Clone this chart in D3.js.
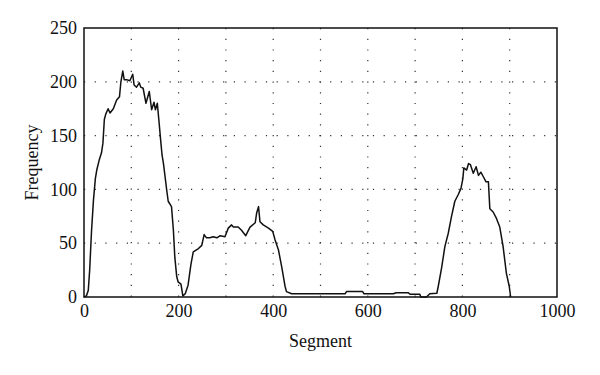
<!DOCTYPE html>
<html><head><meta charset="utf-8">
<script src="https://cdn.jsdelivr.net/npm/d3@7"></script>
<style>body{margin:0;background:#fff}svg{display:block}</style>
</head><body>
<svg id="c" width="600" height="375"></svg>
<script>
const segments = [0,5,9,12,16,20,24,27,32,37,40,43,46,51,55,62,69,75,78,82,85,90,97,103,106,111,117,120,125,131,138,143,148,151,155,159,162,165,168,175,178,185,189,192,196,199,205,209,214,220,226,231,242,249,254,259,266,273,281,288,298,305,312,316,326,333,342,351,362,365,369,372,379,390,399,404,411,418,425,428,439,552,555,589,592,654,660,685,690,710,712,724,731,746,749,756,763,770,777,784,791,797,801,803,809,813,817,823,829,834,839,844,850,855,858,865,872,879,886,893,899,902];
const frequency = [0,1,6,25,62,90,110,118,127,134,143,165,170,175,171,175,183,186,200,210,202,202,201,207,197,195,199,195,194,180,191,174,181,174,180,161,146,132,124,99,89,84,62,37,19,14,12,1,3,11,30,42,45,48,58,55,55,56,55,57,56,64,67,65,65,62,57,65,69,78,84,70,67,64,61,53,44,28,10,5,3,3,5,5,3,3,4,4,2.5,2.5,0,0,3,3.5,10,27,47,59,75,89,95,101,110,120,118,124,123,115,121,113,116,112,107,107,82,79,73,65,47,22,10,0];
const xTicks = [0,200,400,600,800,1000];
const yTicks = [0,50,100,150,200,250];
const xGrid = [100,200,300,400,500,600,700,800,900];
const yGrid = [50,100,150,200];

const svg = d3.select("#c");
const L=84,R=557,T=28,B=297;
const x = d3.scaleLinear().domain([0,1000]).range([L,R]);
const y = d3.scaleLinear().domain([0,250]).range([B,T]);
const font = "Liberation Serif, serif";

// grid
svg.append("g").selectAll("line").data(xGrid).join("line")
  .attr("x1",d=>x(d)).attr("x2",d=>x(d)).attr("y1",T).attr("y2",B)
  .attr("stroke","#333").attr("stroke-width",1.2).attr("stroke-dasharray","1.2,9.5");
svg.append("g").selectAll("line").data(yGrid).join("line")
  .attr("y1",d=>y(d)).attr("y2",d=>y(d)).attr("x1",L).attr("x2",R)
  .attr("stroke","#333").attr("stroke-width",1.2).attr("stroke-dasharray","1.2,9.5");

// axes
const xa = svg.append("g").attr("transform",`translate(0,${B})`)
  .call(d3.axisBottom(x).tickValues(xTicks).tickSize(0).tickPadding(7).tickFormat(d3.format("d")));
const ya = svg.append("g").attr("transform",`translate(${L},0)`)
  .call(d3.axisLeft(y).tickValues(yTicks).tickSize(0).tickPadding(7).tickFormat(d3.format("d")));
[xa,ya].forEach(a=>{a.select(".domain").remove();
  a.attr("font-family",null).attr("font-size",null);
  a.selectAll("text").style("font-family",font).style("font-size","18px").attr("fill","#111");});

// frame
svg.append("rect").attr("x",L).attr("y",T).attr("width",R-L).attr("height",B-T)
  .attr("fill","none").attr("stroke","#111").attr("stroke-width",1.5);

// line
const data = segments.map((s,i)=>[s,frequency[i]]);
svg.append("path").datum(data)
  .attr("d",d3.line().x(d=>x(d[0])).y(d=>y(d[1])).curve(d3.curveLinear))
  .attr("fill","none").attr("stroke","#111").attr("stroke-width",1.5).attr("stroke-linejoin","round");

// titles
svg.append("text").attr("x",(L+R)/2).attr("y",347).attr("text-anchor","middle")
  .style("font-family",font).style("font-size","18px").attr("fill","#111").text("Segment");
svg.append("text").attr("transform",`translate(38,${(T+B)/2}) rotate(-90)`).attr("text-anchor","middle")
  .style("font-family",font).style("font-size","18px").attr("fill","#111").text("Frequency");
</script>
</body></html>
